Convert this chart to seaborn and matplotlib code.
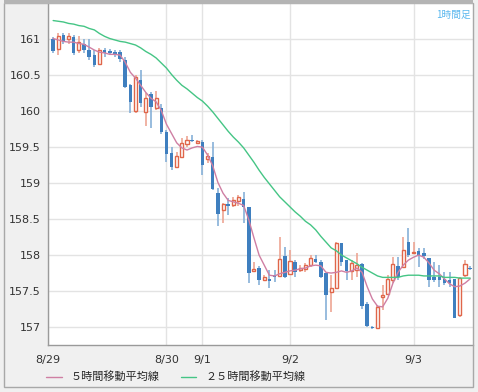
import matplotlib
matplotlib.use("Agg")
import matplotlib.pyplot as plt
import seaborn as sns
import numpy as np
import pandas as pd
from matplotlib.patches import Rectangle

# 1時間足のローソク足 (始値, 高値, 安値, 終値)
opens = [161.00, 160.86, 161.06, 161.00, 161.03, 160.85, 160.94, 160.85, 160.78, 160.65,
         160.85, 160.83, 160.82, 160.82, 160.71, 160.36, 160.00, 160.44, 159.99, 160.24,
         160.04, 160.04, 159.71, 159.42, 159.22, 159.36, 159.54, 159.60, 159.56, 159.57,
         159.33, 159.36, 158.86, 158.63, 158.71, 158.69, 158.75, 158.78, 158.67, 157.78,
         157.82, 157.65, 157.67, 157.72, 157.71, 157.99, 157.74, 157.90, 157.79, 157.81,
         157.86, 157.94, 157.90, 157.75, 157.49, 157.54, 158.17, 157.93, 157.78, 157.79,
         157.88, 157.32, 157.00, 156.99, 157.42, 157.46, 157.65, 157.85, 157.83, 158.18,
         158.03, 158.06, 158.03, 157.96, 157.69, 157.69, 157.67, 157.65, 157.67, 157.17,
         157.72, 157.82]
highs = [161.03, 161.08, 161.08, 161.08, 161.06, 161.04, 161.01, 161.01, 160.85, 160.88,
         160.88, 160.86, 160.85, 160.85, 160.75, 160.38, 160.50, 160.57, 160.25, 160.26,
         160.28, 160.10, 159.74, 159.50, 159.43, 159.63, 159.65, 159.67, 159.60, 159.60,
         159.42, 159.57, 158.93, 158.72, 158.79, 158.81, 158.83, 158.88, 158.67, 157.90,
         157.85, 157.72, 157.79, 157.79, 158.25, 158.11, 158.07, 157.93, 157.86, 157.89,
         158.00, 158.00, 157.93, 157.75, 157.72, 158.18, 158.17, 157.93, 157.93, 158.03,
         157.89, 157.35, 157.01, 157.31, 157.58, 157.72, 157.97, 157.97, 158.25, 158.38,
         158.18, 158.10, 158.10, 157.96, 157.90, 157.86, 157.76, 157.76, 157.67, 157.69,
         157.93, 157.85]
lows = [160.81, 160.78, 160.93, 160.94, 160.78, 160.81, 160.81, 160.71, 160.61, 160.64,
        160.76, 160.78, 160.76, 160.69, 160.32, 159.97, 159.97, 160.06, 159.79, 159.76,
        160.01, 159.68, 159.29, 159.18, 159.21, 159.35, 159.50, 159.57, 159.54, 159.11,
        159.28, 158.90, 158.40, 158.44, 158.56, 158.67, 158.68, 158.44, 157.61, 157.76,
        157.58, 157.64, 157.54, 157.63, 157.69, 157.68, 157.72, 157.69, 157.76, 157.76,
        157.83, 157.89, 157.68, 157.10, 157.21, 157.53, 157.85, 157.65, 157.65, 157.69,
        157.25, 157.00, 156.97, 156.97, 157.24, 157.44, 157.61, 157.65, 157.82, 157.97,
        158.03, 157.83, 157.94, 157.56, 157.63, 157.56, 157.58, 157.56, 157.13, 157.14,
        157.69, 157.79]
closes = [160.83, 161.04, 160.96, 161.04, 160.81, 160.96, 160.85, 160.75, 160.64, 160.85,
          160.81, 160.81, 160.79, 160.72, 160.33, 160.13, 160.47, 160.11, 160.19, 160.06,
          160.18, 159.71, 159.40, 159.22, 159.38, 159.56, 159.60, 159.58, 159.58, 159.25,
          159.38, 158.92, 158.57, 158.71, 158.68, 158.76, 158.81, 158.67, 157.75, 157.81,
          157.65, 157.69, 157.64, 157.69, 157.94, 157.69, 157.92, 157.76, 157.82, 157.86,
          157.96, 157.90, 157.69, 157.44, 157.54, 158.17, 157.90, 157.78, 157.89, 157.86,
          157.29, 157.01, 156.99, 157.28, 157.44, 157.67, 157.88, 157.69, 158.07, 158.00,
          158.04, 157.99, 157.99, 157.65, 157.65, 157.65, 157.61, 157.61, 157.13, 157.68,
          157.88, 157.81]

# 移動平均線
ma5 = [161.01, 160.99, 160.97, 160.96, 160.96, 160.94, 160.93, 160.89, 160.85, 160.82,
       160.81, 160.79, 160.79, 160.78, 160.68, 160.54, 160.46, 160.36, 160.26, 160.18,
       160.13, 160.01, 159.82, 159.69, 159.56, 159.49, 159.46, 159.49, 159.51, 159.50,
       159.39, 159.24, 159.01, 158.86, 158.76, 158.74, 158.72, 158.69, 158.49, 158.24,
       158.00, 157.86, 157.72, 157.71, 157.74, 157.76, 157.78, 157.79, 157.81, 157.82,
       157.85, 157.86, 157.85, 157.76, 157.75, 157.76, 157.78, 157.76, 157.78, 157.82,
       157.76, 157.56, 157.39, 157.29, 157.28, 157.40, 157.61, 157.76, 157.86, 157.93,
       157.97, 158.00, 157.97, 157.89, 157.79, 157.74, 157.67, 157.60, 157.56, 157.57,
       157.61, 157.67]
ma25 = [161.26, 161.25, 161.24, 161.22, 161.21, 161.19, 161.18, 161.15, 161.13, 161.08,
        161.04, 161.01, 160.99, 160.97, 160.96, 160.94, 160.92, 160.88, 160.83, 160.79,
        160.74, 160.67, 160.60, 160.51, 160.43, 160.36, 160.31, 160.25, 160.19, 160.14,
        160.07, 159.99, 159.90, 159.81, 159.72, 159.64, 159.57, 159.49, 159.39, 159.29,
        159.18, 159.08, 158.99, 158.90, 158.81, 158.74, 158.67, 158.60, 158.54, 158.47,
        158.42, 158.35, 158.26, 158.18, 158.10, 158.06, 158.00, 157.96, 157.92, 157.88,
        157.83, 157.79, 157.75, 157.71, 157.69, 157.69, 157.69, 157.69, 157.71, 157.72,
        157.72, 157.72, 157.71, 157.71, 157.71, 157.71, 157.69, 157.69, 157.69, 157.68,
        157.68, 157.68]

# 日付ラベル (その日の最初の足の番号)
date_labels = ['8/29', '8/30', '9/1', '9/2', '9/3']
date_start = [-1, 22, 29, 46, 70]
y_ticks = [157, 157.5, 158, 158.5, 159, 159.5, 160, 160.5, 161]

blue = '#3f7fbf'
blue_wick = '#86b0d8'
red = '#e0664a'
red_wick = '#eda594'

sns.set_style('white')
plt.rcParams['font.family'] = ['DejaVu Sans', 'Noto Sans CJK JP']

fig = plt.figure(figsize=(4.78, 3.92), dpi=100)
fig.patch.set_facecolor('#f0f0f0')
# 外枠と上の帯
fig.patches.append(Rectangle((4 / 478, 5 / 392), 469 / 478, 384 / 392, transform=fig.transFigure,
                             fill=False, edgecolor='#a8a8a8', linewidth=1))
fig.patches.append(Rectangle((4 / 478, 388 / 392), 469 / 478, 4 / 392, transform=fig.transFigure,
                             facecolor='#b4b4b4', edgecolor='none', zorder=5))
ax = fig.add_axes([48 / 478, 47 / 392, 425 / 478, 341 / 392])
ax.set_facecolor('white')

df = pd.DataFrame({'i': np.arange(len(opens)), 'o': opens, 'h': highs, 'l': lows, 'c': closes})
up = df.c >= df.o
dn = ~up

# ヒゲ
ax.vlines(df.i[up], df.l[up], df.h[up], color=red_wick, linewidth=1.2, zorder=2)
ax.vlines(df.i[dn], df.l[dn], df.h[dn], color=blue_wick, linewidth=1.2, zorder=2)
# 実体 (陽線は白抜き、陰線は塗りつぶし)
ax.bar(df.i[up], np.maximum(df.c[up] - df.o[up], 0.012), bottom=df.o[up], width=0.6,
       facecolor='white', edgecolor=red, linewidth=1, zorder=3)
ax.bar(df.i[dn], np.maximum(df.o[dn] - df.c[dn], 0.012), bottom=df.c[dn], width=0.68,
       color=blue, linewidth=0, zorder=3)

# 移動平均線
sns.lineplot(x=df.i, y=ma5, color='#cf7fa3', linewidth=1, ax=ax, zorder=4, label='５時間移動平均線')
sns.lineplot(x=df.i, y=ma25, color='#45c585', linewidth=1, ax=ax, zorder=4, label='２５時間移動平均線')

ax.set_xlim(-0.97, 81.55)
ax.set_ylim(156.75, 161.49)
ax.set_yticks(y_ticks)
ax.set_yticklabels([f'{v:g}' for v in y_ticks])
ax.set_xticks(date_start)
ax.set_xticklabels(date_labels)
ax.set_xlabel('')
ax.set_ylabel('')
ax.grid(True, color='#e3e3e3', linewidth=1)
ax.set_axisbelow(True)
ax.tick_params(axis='y', length=0, labelsize=8, labelcolor='#333333', pad=5)
ax.tick_params(axis='x', length=0, labelsize=8, labelcolor='#333333', pad=7)
for side in ['left', 'bottom']:
    ax.spines[side].set_color('#9a9a9a')
    ax.spines[side].set_linewidth(1)
ax.spines['right'].set_visible(False)
ax.spines['top'].set_visible(False)

ax.text(0.996, 0.982, '1時間足', transform=ax.transAxes, ha='right', va='top',
        fontsize=7, color='#5bb8ef', family=['Noto Sans CJK JP'])

handles, labels = ax.get_legend_handles_labels()
ax.get_legend().remove()
fig.legend(handles, labels, loc='center left', bbox_to_anchor=(36 / 478, 15 / 392), ncol=2,
           frameon=False, handlelength=1.4, columnspacing=1.9, handletextpad=0.8,
           prop={'family': ['Noto Sans CJK JP'], 'size': 8})

fig.savefig('out.png', dpi=100, facecolor=fig.get_facecolor())
